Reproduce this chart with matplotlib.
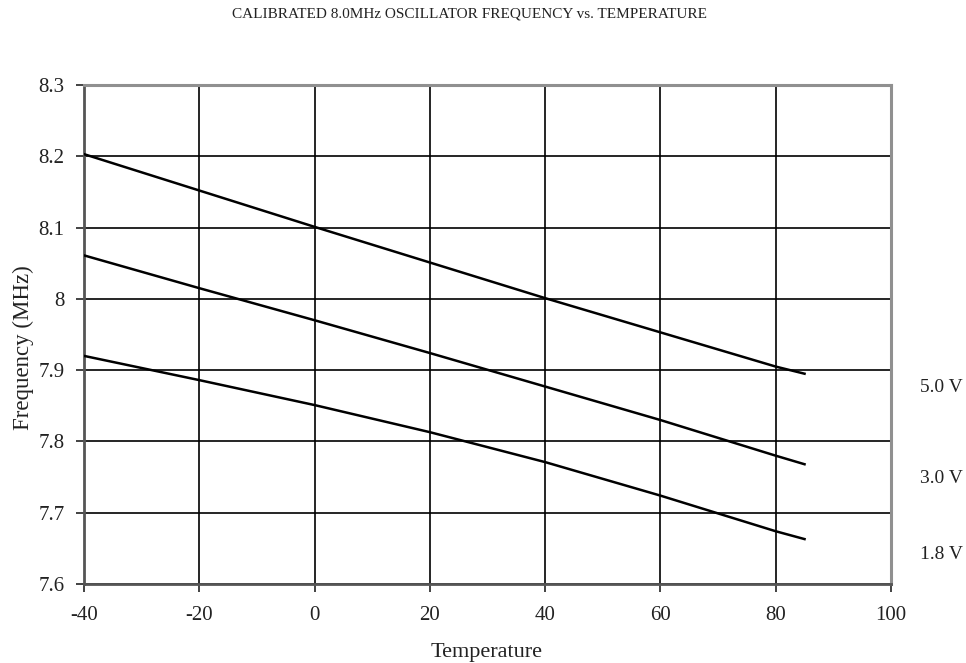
import matplotlib
matplotlib.use("Agg")
import matplotlib.pyplot as plt

temps = [-40, -20, 0, 20, 40, 60, 80, 85]
f_50 = [8.203, 8.152, 8.101, 8.051, 8.001, 7.953, 7.905, 7.895]
f_30 = [8.061, 8.015, 7.970, 7.924, 7.877, 7.830, 7.780, 7.768]
f_18 = [7.920, 7.886, 7.851, 7.813, 7.771, 7.724, 7.674, 7.663]
series_labels = ["5.0 V", "3.0 V", "1.8 V"]
label_y = [7.875, 7.748, 7.642]

xticks = [-40, -20, 0, 20, 40, 60, 80, 100]
yticks = [7.6, 7.7, 7.8, 7.9, 8.0, 8.1, 8.2, 8.3]
yticklabels = ["7.6", "7.7", "7.8", "7.9", "8", "8.1", "8.2", "8.3"]

plt.rcParams['font.family'] = ['Liberation Serif', 'DejaVu Serif']
plt.rcParams['axes.unicode_minus'] = False

W, H = 966, 663
fig = plt.figure(figsize=(W/100, H/100), dpi=100)
ax = fig.add_axes([84/W, 1-584/H, (891-84)/W, (584-85)/H])

for ys in (f_50, f_30, f_18):
    ax.plot(temps, ys, color='black', lw=1.8, zorder=3)

ax.set_xlim(-40, 100)
ax.set_ylim(7.6, 8.3)
ax.set_xticks(xticks)
ax.set_yticks(yticks)
ax.set_yticklabels(yticklabels)
ax.grid(True, color='black', lw=1.2)
ax.set_axisbelow(True)
ax.tick_params(direction='out', length=6, width=1.2, labelsize=15, colors='#222222', pad=8)
ax.tick_params(axis='x', pad=10)

for s in ('top', 'right'):
    ax.spines[s].set_color('#909090')
    ax.spines[s].set_linewidth(2.2)
for s in ('left', 'bottom'):
    ax.spines[s].set_color('#555555')
    ax.spines[s].set_linewidth(2.0)

fig.text(487/W, 1-653/H, 'Temperature', ha='center', va='center', fontsize=16, color='#222222')
fig.text(23/W, 1-348/H, 'Frequency (MHz)', ha='center', va='center', rotation=90,
         fontsize=16.5, color='#222222')

for lab, yv in zip(series_labels, label_y):
    ax.text(1.062, yv, lab, transform=ax.get_yaxis_transform(), ha='center', va='center',
            fontsize=14, color='#222222', clip_on=False)

fig.text(470/W, 1-14/H, 'CALIBRATED 8.0MHz OSCILLATOR FREQUENCY vs. TEMPERATURE',
         ha='center', va='center', fontsize=11, color='#222222')

fig.savefig('out.png', dpi=100)
